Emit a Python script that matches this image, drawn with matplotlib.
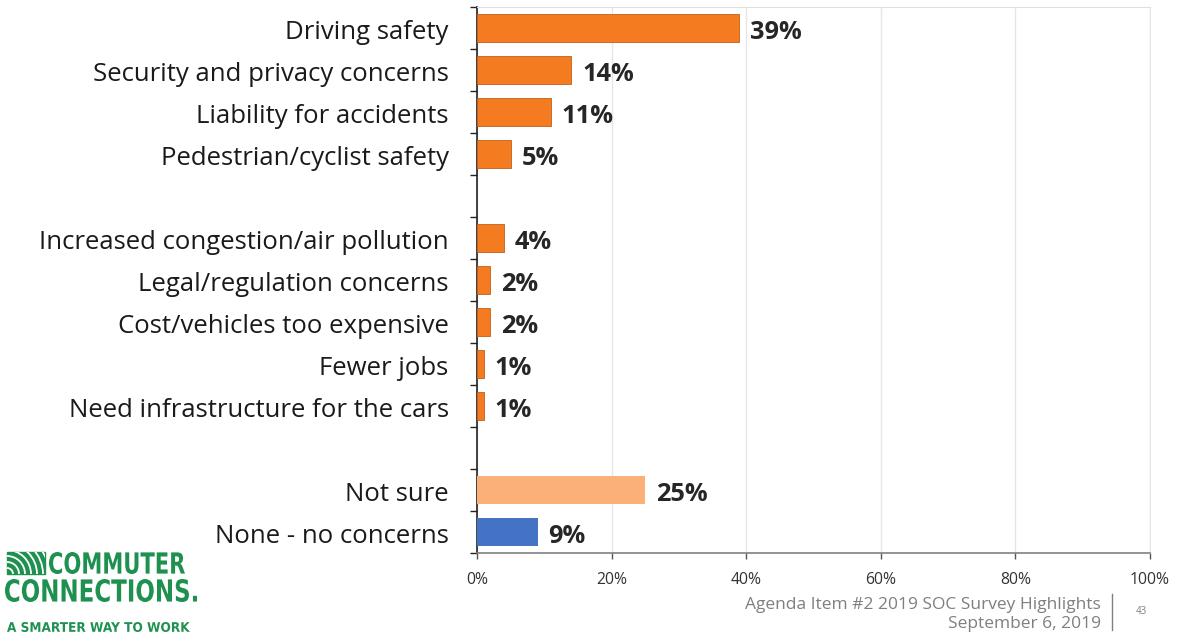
import numpy as np
import matplotlib
matplotlib.use('Agg')
import matplotlib.pyplot as plt
from matplotlib.patches import Rectangle, Arc, PathPatch
from matplotlib.textpath import TextPath
from matplotlib.font_manager import FontProperties
from matplotlib.transforms import Affine2D

# survey data, top to bottom; None marks a blank spacer row
categories = ['Driving safety', 'Security and privacy concerns', 'Liability for accidents',
              'Pedestrian/cyclist safety', None,
              'Increased congestion/air pollution', 'Legal/regulation concerns',
              'Cost/vehicles too expensive', 'Fewer jobs', 'Need infrastructure for the cars', None,
              'Not sure', 'None - no concerns']
values = [39, 14, 11, 5, None, 4, 2, 2, 1, 1, None, 25, 9]
groups = ['concern'] * 5 + ['concern'] * 6 + ['notsure', 'none']
xticks = [0, 20, 40, 60, 80, 100]

colors = {'concern': '#F47B20', 'notsure': '#FBB077', 'none': '#4472C4'}

plt.rcParams['font.family'] = ['Open Sans', 'DejaVu Sans']

W, H = 1179, 634
fig = plt.figure(figsize=(W / 100, H / 100), dpi=100)
fig.set_facecolor('white')
ax = fig.add_axes([477 / W, 1 - 553 / H, (1150 - 477) / W, (553 - 7) / H])

n = len(categories)
for i, (cat, val, grp) in enumerate(zip(categories, values, groups)):
    if val is None:
        continue
    y = n - 1 - i
    ax.barh(y, val, height=0.66, color=colors[grp], edgecolor='#C0601A' if grp == 'concern' else None,
            linewidth=0.6, zorder=3)
    ax.text(val + 1.6, y - 0.1, f'{val}%', va='center', ha='left', fontsize=18.3,
            fontweight='bold', color='#262626')
    ax.text(-4.2, y - 0.1, cat, va='center', ha='right', fontsize=18.5, color='#1A1A1A')

ax.set_xlim(0, 100)
ax.set_ylim(-0.5, n - 0.5)
ax.set_xticks(xticks)
ax.set_xticklabels([f'{t}%' for t in xticks], fontsize=11.3, color='#333333')
ax.set_yticks(np.arange(n + 1) - 0.5)
ax.set_yticklabels([])
ax.tick_params(axis='y', direction='out', length=5, width=1, color='#222222')
ax.tick_params(axis='x', direction='out', length=4, width=1, color='#555555', pad=10)

ax.grid(axis='x', color='#E6E6E6', linewidth=1, zorder=0)
ax.spines['left'].set_color('#222222')
ax.spines['left'].set_linewidth(1.2)
ax.spines['bottom'].set_color('#808080')
ax.spines['bottom'].set_linewidth(1.2)
ax.spines['top'].set_color('#E0E0E0')
ax.spines['right'].set_color('#E6E6E6')

# footer
fig.text(1101 / W, 1 - 605 / H, 'Agenda Item #2 2019 SOC Survey Highlights', ha='right', va='center',
         fontsize=12.5, color='#7F7F7F')
fig.text(1101 / W, 1 - 624 / H, 'September 6, 2019', ha='right', va='center',
         fontsize=12.5, color='#7F7F7F')
fig.add_artist(plt.Line2D([1112 / W, 1112 / W], [1 - 630 / H, 1 - 594 / H],
                          color='#808080', linewidth=1))
fig.text(1141 / W, 1 - 611 / H, '43', ha='center', va='center', fontsize=7, color='#7F7F7F')

# logo, drawn in a pixel-space overlay axes
green = '#1E9150'
lax = fig.add_axes([0, 0, 1, 1])
lax.set_xlim(0, W)
lax.set_ylim(H, 0)
lax.axis('off')
lax.patch.set_alpha(0)


def fit_text(s, x0, x1, y0, y1):
    path = TextPath((0, 0), s, size=10, prop=FontProperties(family='DejaVu Sans', weight='bold'))
    ext = path.get_extents()
    sx = (x1 - x0) / ext.width
    sy = (y1 - y0) / ext.height
    tr = Affine2D().translate(-ext.x0, -ext.y0).scale(sx, -sy).translate(x0, y1)
    lax.add_patch(PathPatch(path, transform=tr + lax.transData, color=green, lw=0))


fit_text('COMMUTER', 49, 185, 552, 574)
fit_text('CONNECTIONS.', 5, 197, 579, 602)
fit_text('A SMARTER WAY TO WORK', 7, 190, 622, 632)

# striped mark next to COMMUTER
box = Rectangle((7, 552), 38, 22, color=green)
lax.add_patch(box)
for r in range(6, 60, 6):
    arc = Arc((7, 574), 2 * r, 2 * r, theta1=270, theta2=360, color='white', linewidth=1.3)
    lax.add_patch(arc)
    arc.set_clip_path(box)

fig.savefig('out.png', dpi=100, facecolor='white')
